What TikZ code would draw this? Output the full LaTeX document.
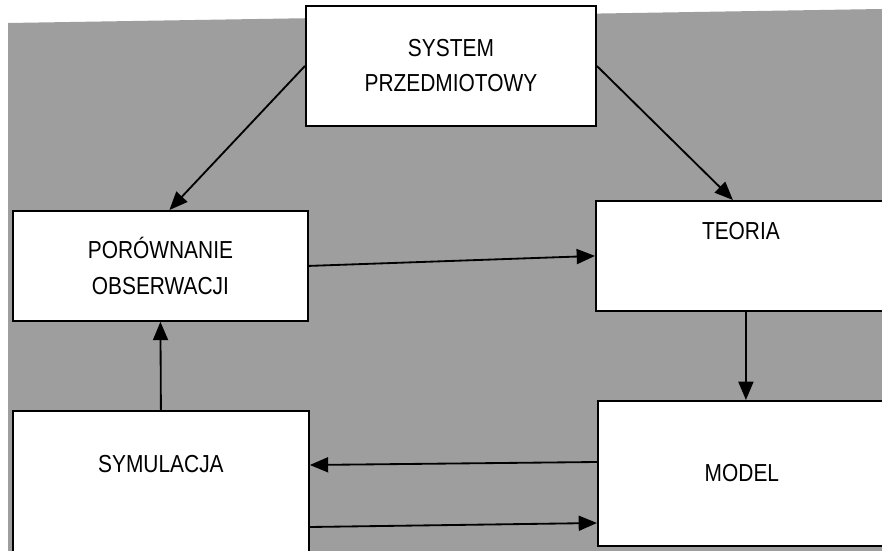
\documentclass[tikz,border=0pt]{standalone}
\usepackage{fontspec}
\setmainfont{Liberation Sans}[FakeStretch=0.85]
\usetikzlibrary{arrows.meta,calc}

\tikzset{
  blok/.style={draw=black, line width=.55mm, fill=white, inner sep=0pt, align=center,
    anchor=north west, font=\fontsize{21}{30}\selectfont},
  strzalka/.style={line width=.55mm, -{Triangle[length=5.5mm,width=4.5mm]}}
}

\begin{document}
\begin{tikzpicture}[x=.3mm,y=-.3mm]
\useasboundingbox (0,0) rectangle (882,551);
\fill[white] (0,0) rectangle (882,551);
\fill[black!38] (8,23) -- (882,9) -- (882,551) -- (8,551) -- cycle;
\node[blok, minimum width=87mm, minimum height=36mm] (sys) at (305,5) {SYSTEM\\PRZEDMIOTOWY};
\node[blok, minimum width=88.5mm, minimum height=33mm] (por) at (12,210) {PORÓWNANIE\\OBSERWACJI};
\node[blok, minimum width=87mm, text height=11.7mm, text depth=21.3mm] (teo) at (595,200) {TEORIA};
\node[blok, minimum width=86.4mm, minimum height=43.5mm] (mod) at (597,400) {MODEL};
\node[blok, minimum width=88.8mm, text height=18.6mm, text depth=24.3mm] (sym) at (12,410) {SYMULACJA};
\draw[strzalka] (sys.west) -- ($(por.north)+(9,0)$);
\draw[strzalka] (sys.east) -- ($(teo.north)+(-8,0)$);
\draw[strzalka] (por.east) -- (teo.west);
\draw[strzalka] ($(teo.south)+(5,0)$) -- ($(mod.north)+(4,0)$);
\draw[strzalka] (mod.west |- 0,462) -- (sym.east |- 0,465);
\draw[strzalka] (sym.east |- 0,527) -- (mod.west |- 0,523);
\draw[strzalka] (sym.north) -- (por.south);
\end{tikzpicture}
\end{document}
